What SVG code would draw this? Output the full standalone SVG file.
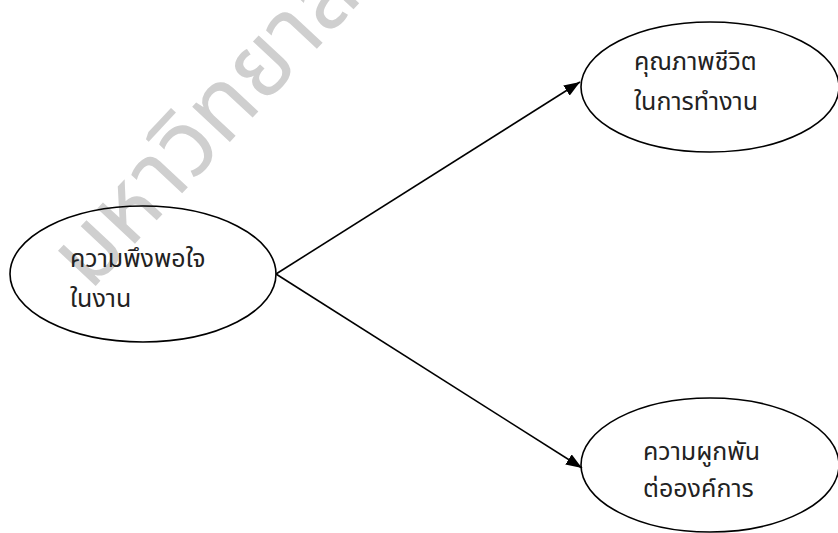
<svg xmlns="http://www.w3.org/2000/svg" width="838" height="533" viewBox="0 0 838 533">
  <style>
    .node ellipse { fill: none; stroke: #000; stroke-width: 1.6; }
    .label { font-family: "Noto Sans Thai", "Noto Sans", "DejaVu Sans", sans-serif; font-size: 25px; fill: #222; }
    .edge { stroke: #000; stroke-width: 1.6; fill: none; marker-end: url(#arrow); }
    .mark { font-family: "Noto Sans Thai", "Noto Sans", "DejaVu Sans", sans-serif; font-size: 94px; fill: #cfcfcf; }
  </style>
  <defs>
    <marker id="arrow" viewBox="0 0 16 12" refX="16" refY="6" markerWidth="16" markerHeight="12" markerUnits="userSpaceOnUse" orient="auto">
      <path d="M0,0 L16,6 L0,12 Z" fill="#000"/>
    </marker>
  </defs>
  <rect width="838" height="533" fill="#fff"/>

  <!-- background stamp -->
  <text class="mark" transform="translate(90,292) rotate(-47)">มหาวิทยาลัย</text>

  <g id="connectors">
    <line class="edge" x1="276" y1="274" x2="580" y2="82"/>
    <line class="edge" x1="276" y1="274" x2="582" y2="468"/>
  </g>

  <g id="job-satisfaction" class="node">
    <ellipse cx="143" cy="274" rx="133" ry="68"/>
    <text class="label" x="70" y="267">ความพึงพอใจ</text>
    <text class="label" x="70" y="307">ในงาน</text>
  </g>

  <g id="quality-of-work-life" class="node">
    <ellipse cx="710" cy="87" rx="129" ry="65"/>
    <text class="label" x="634" y="70">คุณภาพชีวิต</text>
    <text class="label" x="634" y="110">ในการทำงาน</text>
  </g>

  <g id="organizational-commitment" class="node">
    <ellipse cx="710" cy="465" rx="129" ry="67"/>
    <text class="label" x="643" y="460">ความผูกพัน</text>
    <text class="label" x="643" y="497">ต่อองค์การ</text>
  </g>
</svg>
